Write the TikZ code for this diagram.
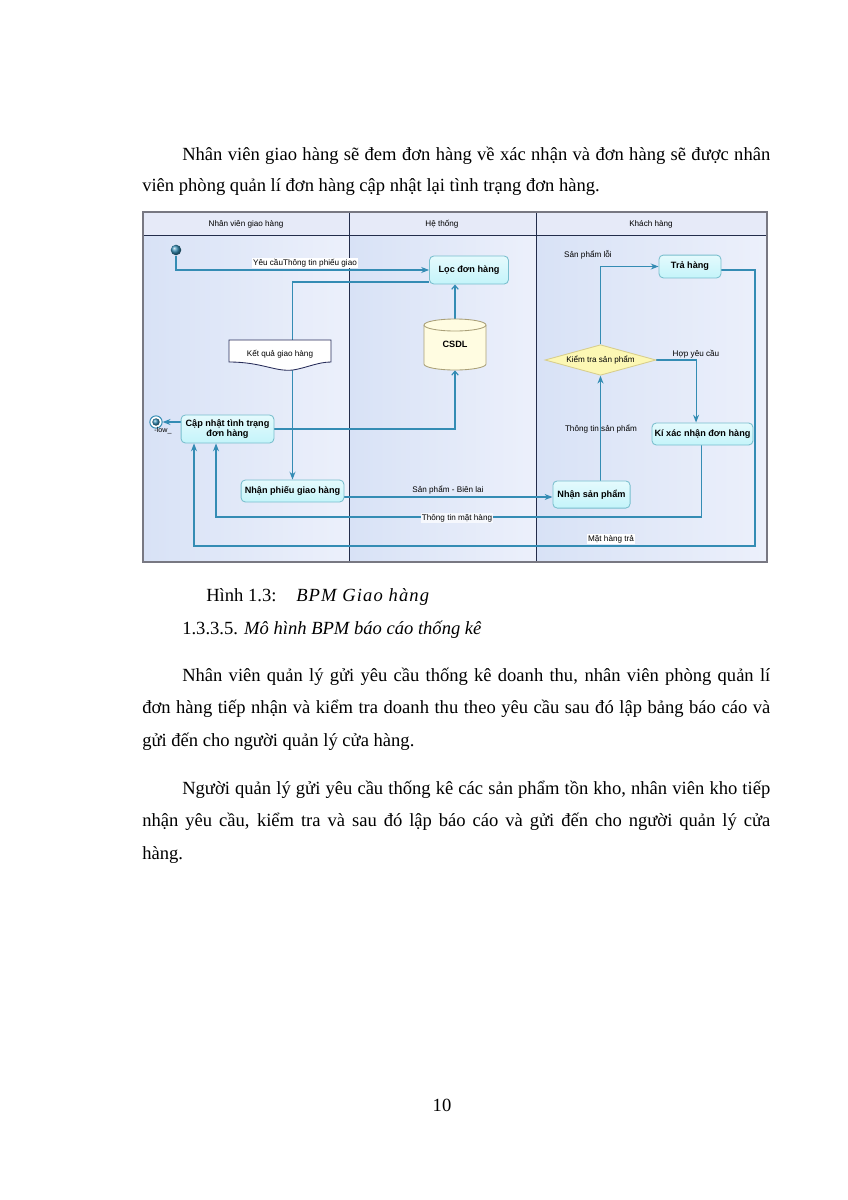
\documentclass[tikz,border=0pt]{standalone}
\usepackage{fontspec}
\setmainfont{Liberation Serif}
\newfontfamily\dfont{Liberation Sans}
\usetikzlibrary{arrows.meta,shapes.geometric}
\definecolor{lnk}{RGB}{52,140,180}
\definecolor{arrc}{RGB}{30,120,165}
\definecolor{actb}{RGB}{120,190,205}
\definecolor{actf}{RGB}{196,244,250}
\definecolor{lanel}{RGB}{216,226,246}
\definecolor{laner}{RGB}{236,240,251}
\definecolor{hdr}{RGB}{230,234,248}
\definecolor{divc}{RGB}{35,45,75}
\definecolor{frm}{RGB}{120,120,130}
\definecolor{dmf}{RGB}{252,247,180}
\definecolor{dmb}{RGB}{215,205,140}
\definecolor{cyf}{RGB}{255,252,225}
\definecolor{cyb}{RGB}{170,160,120}
\definecolor{notec}{RGB}{40,45,90}
\pgfdeclarelayer{lanes}
\pgfdeclarelayer{wires}
\pgfsetlayers{lanes,wires,main}
\begin{document}
\begin{tikzpicture}[x=0.7pt,y=-0.7pt,
  body/.style={anchor=base west, inner sep=0pt, font=\fontsize{13}{15}\selectfont},
  act/.style={draw=actb, line width=0.6pt, rounded corners=3pt, top color=actf!45!white, bottom color=actf,
    inner sep=1pt, align=center, font=\dfont\bfseries\fontsize{6.4}{7.4}\selectfont},
  lbl/.style={font=\dfont\fontsize{5.7}{6.7}\selectfont, inner sep=0.6pt},
  conn/.style={draw=lnk, line width=0.8pt},
  arr/.style={conn, -{Stealth[length=5.5pt,width=4.2pt,fill=arrc]}},
  oarr/.style={conn, -{Straight Barb[length=2.8pt,width=4.6pt]}}
]
\useasboundingbox (0,0) rectangle (848,1200);

% ---- text above
\node[body] (p1a) at (182,160) {\makebox[411.6pt][s]{Nhân viên giao hàng sẽ đem đơn hàng về xác nhận và đơn hàng sẽ được nhân}};
\node[body] (p1b) at (142,191) {viên phòng quản lí đơn hàng cập nhật lại tình trạng đơn hàng.};

% ---- lanes
\begin{pgfonlayer}{lanes}
\fill[left color=lanel, right color=laner] (143,235) rectangle (349,562);
\fill[left color=lanel, right color=laner] (349,235) rectangle (536,562);
\fill[left color=lanel, right color=laner] (536,235) rectangle (767,562);
\fill[hdr] (143,212) rectangle (767,235);
\draw[divc, line width=0.6pt] (143,235) -- (767,235);
\draw[divc, line width=0.6pt] (349,212) -- (349,562);
\draw[divc, line width=0.6pt] (536,212) -- (536,562);
\draw[frm, line width=0.8pt] (143,212) rectangle (767,562);
\end{pgfonlayer}
\node[lbl] (h1) at (246,224) {Nhân viên giao hàng};
\node[lbl] (h2) at (442,224) {Hệ thống};
\node[lbl] (h3) at (651,224) {Khách hàng};

% ---- nodes
\node[circle, shading=ball, ball color=lnk, minimum size=7.4pt, inner sep=0pt] (st) at (176,250) {};
\node[circle, draw=lnk, fill=white, line width=0.7pt, minimum size=8.6pt, inner sep=0pt] (fin) at (156,422) {};
\node[circle, shading=ball, ball color=lnk, minimum size=5.2pt, inner sep=0pt] (fin2) at (156,422) {};

\node[act, minimum width=55.3pt, minimum height=19.6pt] (loc) at (469,270) {Lọc đơn hàng};
\node[act, minimum width=65pt, minimum height=19.6pt] (cap) at (227.5,429) {Cập nhật tình trạng\\đơn hàng};
\node[act, minimum width=72pt, minimum height=15.4pt] (nph) at (292.5,491) {Nhận phiếu giao hàng};
\node[act, minimum width=54pt, minimum height=19pt] (nsp) at (591.5,494.5) {Nhận sản phẩm};
\node[act, minimum width=43.4pt, minimum height=16pt] (tra) at (690,266.5) {Trả hàng};
\node[act, minimum width=70.7pt, minimum height=15.4pt] (kxn) at (702.5,434) {Kí xác nhận đơn hàng};
\node[diamond, draw=dmb, fill=dmf, line width=0.6pt, aspect=3.4, minimum width=77.7pt, inner sep=0pt, lbl] (kt) at (600.5,360) {Kiểm tra sản phẩm};

% cylinder CSDL
\filldraw[draw=cyb, fill=cyf, line width=0.6pt] (424,364) arc[start angle=180,end angle=360,x radius=21.7pt,y radius=4.2pt] -- (486,325) arc[start angle=0,end angle=180,x radius=21.7pt,y radius=4.2pt] -- cycle;
\draw[cyb, line width=0.6pt] (424,325) arc[start angle=180,end angle=360,x radius=21.7pt,y radius=4.2pt];
\node[minimum width=43.4pt, minimum height=35.7pt, inner sep=0pt, font=\dfont\bfseries\fontsize{6.4}{7}\selectfont] (csdl) at (455,344.5) {CSDL};

% note
\filldraw[draw=notec, fill=white, line width=0.6pt] (229,362) -- (229,340) -- (331,340) -- (331,362) .. controls (318,362) and (306,368) .. (293,370) .. controls (275,372) and (262,362) .. cycle;
\node[lbl] (note) at (280,354) {Kết quả giao hàng};

% ---- connectors
\begin{pgfonlayer}{wires}
\draw[arr] (st.south) |- (loc.west);
\draw[arr] ([yshift=-8.4pt]loc.west) -| (nph.north);
\draw[oarr] (csdl.north) -- (loc.south -| csdl.north);
\draw[oarr] (cap.east) -| (csdl.south);
\draw[arr] ([yshift=4.9pt]cap.west) -- ([yshift=4.9pt]cap.west -| fin.east);
\draw[arr] ([yshift=-4.2pt]nph.east) -- ([yshift=-4.2pt]nph.east -| nsp.west);
\draw[arr] (kt.south |- nsp.north) -- (kt.south);
\draw[arr] (kt.north) |- (tra.west);
\draw[arr] (kt.east) -| ([xshift=-4.5pt]kxn.north);
\coordinate (b1) at (216,517);
\draw[arr] ([xshift=-1pt]kxn.south) |- (b1) -- (b1 |- cap.south);
\coordinate (b2) at (755,546);
\coordinate (b3) at (194,546);
\draw[arr] ([yshift=-2.45pt]tra.east) -| (b2) -- (b3) -- (b3 |- cap.south);
\end{pgfonlayer}

% ---- connector labels
\node[lbl, fill=white] (l1) at (305,263) {Yêu cầuThông tin phiếu giao};
\node[lbl] (l2) at (448,490) {Sản phẩm - Biên lai};
\node[lbl, fill=white!55!laner] (l3) at (457,518) {Thông tin mặt hàng};
\node[lbl, fill=white] (l4) at (611,539) {Mặt hàng trả};
\node[lbl] (l5) at (601,429) {Thông tin sản phẩm};
\node[lbl] (l6) at (588,255) {Sản phẩm lỗi};
\node[lbl] (l7) at (696,354) {Hợp yêu cầu};
\node[lbl, font=\dfont\fontsize{5}{6}\selectfont] (l8) at (163,431) {-low\_};

% ---- text below
\node[body] (cap1) at (206,601) {Hình 1.3:};
\node[body] (cap2) at (296,601) {\itshape\addfontfeature{LetterSpace=6}BPM Giao hàng};
\node[body] (hd) at (182,634) {1.3.3.5. \textit{Mô hình BPM báo cáo thống kê}};
\node[body] (p2a) at (182,681) {\makebox[411.6pt][s]{Nhân viên quản lý gửi yêu cầu thống kê doanh thu, nhân viên phòng quản lí}};
\node[body] (p2b) at (142,713) {\makebox[439.6pt][s]{đơn hàng tiếp nhận và kiểm tra doanh thu theo yêu cầu sau đó lập bảng báo cáo và}};
\node[body] (p2c) at (142,746) {gửi đến cho người quản lý cửa hàng.};
\node[body] (p3a) at (182,794) {\makebox[411.6pt][s]{Người quản lý gửi yêu cầu thống kê các sản phẩm tồn kho, nhân viên kho tiếp}};
\node[body] (p3b) at (142,826) {\makebox[439.6pt][s]{nhận yêu cầu, kiểm tra và sau đó lập báo cáo và gửi đến cho người quản lý cửa}};
\node[body] (p3c) at (142,859) {hàng.};
\node[body, anchor=base] (pg) at (442,1111) {10};
\end{tikzpicture}
\end{document}
